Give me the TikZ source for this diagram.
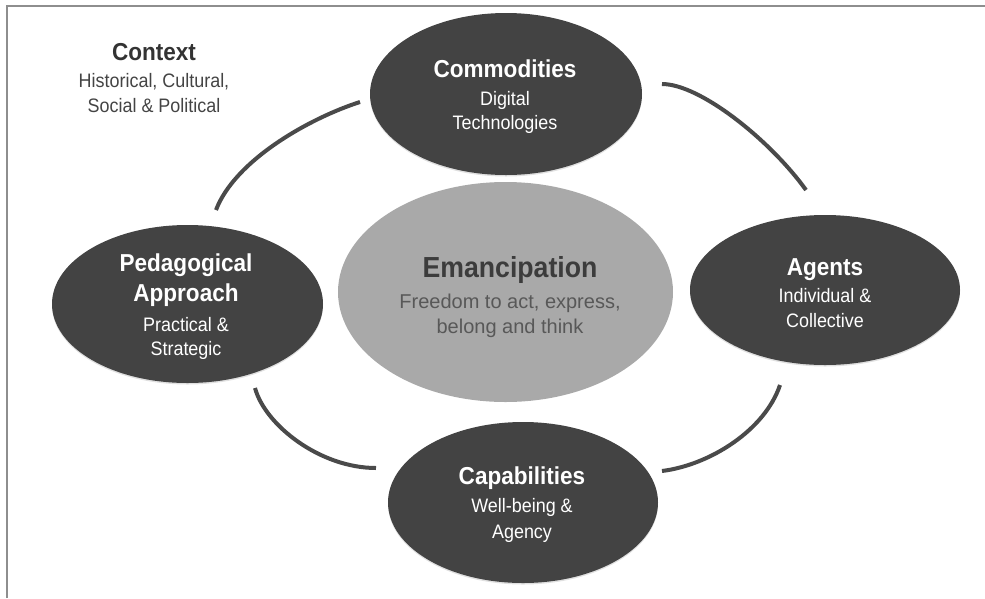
\documentclass[tikz,border=0pt]{standalone}
\usepackage{fontspec}
\setmainfont{Liberation Sans}
\newfontfamily\rob{Liberation Sans}[FakeStretch=0.92]
\usetikzlibrary{shapes.geometric,shadows}
\definecolor{darkfill}{HTML}{434343}
\definecolor{midfill}{HTML}{A9A9A9}
\definecolor{arccol}{HTML}{4A4A4A}
\definecolor{framecol}{HTML}{8E8E8E}
\definecolor{ctxhead}{HTML}{333333}
\definecolor{ctxsub}{HTML}{444444}
\definecolor{emhead}{HTML}{3C3C3C}
\definecolor{emsub}{HTML}{585858}
\tikzset{
  darkell/.style={ellipse, fill=darkfill, draw=none, inner sep=0pt,
    drop shadow={shadow xshift=0pt, shadow yshift=-1.5pt, opacity=0.12, fill=black}},
  midell/.style={ellipse, fill=midfill, draw=none, inner sep=0pt},
  txt/.style={anchor=base, inner sep=0pt, align=center},
  headw/.style={txt, text=white, font=\rob\bfseries\fontsize{24.5}{28}\selectfont},
  subw/.style={txt, text=white, font=\rob\fontsize{19.5}{22}\selectfont},
  loop/.style={draw=arccol, line width=4pt, line cap=butt},
}
\begin{document}
\begin{tikzpicture}[x=1pt,y=-1pt]
\useasboundingbox (0,0) rectangle (985,598);
% frame
\draw[framecol, line width=1.5pt] (7,598) -- (7,6) -- (985,6);

% ellipses
\node[darkell, minimum width=272pt, minimum height=162pt] (commod) at (506,94) {};
\node[midell, minimum width=335pt, minimum height=220pt] (eman) at (505.5,292) {};
\node[darkell, minimum width=271pt, minimum height=158pt] (pedag) at (187.5,304) {};
\node[darkell, minimum width=270pt, minimum height=150pt] (agents) at (825,290) {};
\node[darkell, minimum width=270pt, minimum height=161pt] (capab) at (523,502.5) {};

% connecting arcs
\coordinate (a1s) at (216,210); \coordinate (a1e) at (360,102);
\coordinate (a2s) at (662,84);  \coordinate (a2e) at (806,190);
\coordinate (a3s) at (780,385); \coordinate (a3e) at (662,471);
\coordinate (a4s) at (255,388); \coordinate (a4e) at (376,468);
\draw[loop] (a1s) .. controls (235,160) and (310,118) .. (a1e);
\draw[loop] (a2s) .. controls (700,84) and (770,140) .. (a2e);
\draw[loop] (a3s) .. controls (765,430) and (710,465) .. (a3e);
\draw[loop] (a4s) .. controls (265,425) and (320,468) .. (a4e);

% context
\node[txt, text=ctxhead, font=\rob\bfseries\fontsize{24.5}{28}\selectfont] (ctxh) at (154,60) {Context};
\node[txt, text=ctxsub, font=\rob\fontsize{19.5}{22}\selectfont] (ctx1) at (154,87) {Historical, Cultural,};
\node[txt, text=ctxsub, font=\rob\fontsize{19.5}{22}\selectfont] (ctx2) at (154,112) {Social \& Political};

% commodities
\node[headw] (commh) at (505,77) {Commodities};
\node[subw] (comm1) at (505,105) {Digital};
\node[subw] (comm2) at (505,129) {Technologies};

% emancipation
\node[txt, text=emhead, font=\rob\bfseries\fontsize{29}{32}\selectfont] (emh) at (510,277) {Emancipation};
\node[txt, text=emsub, font=\fontsize{20}{23}\selectfont] (em1) at (510,308) {Freedom to act, express,};
\node[txt, text=emsub, font=\fontsize{20}{23}\selectfont] (em2) at (510,333) {belong and think};

% pedagogical
\node[headw] (pedh1) at (186,271) {Pedagogical};
\node[headw] (pedh2) at (186,301) {Approach};
\node[subw] (ped1) at (186,331) {Practical \&};
\node[subw] (ped2) at (186,355) {Strategic};

% agents
\node[headw] (agh) at (825,275) {Agents};
\node[subw] (ag1) at (825,302) {Individual \&};
\node[subw] (ag2) at (825,327) {Collective};

% capabilities
\node[headw] (caph) at (522,484) {Capabilities};
\node[subw] (cap1) at (522,512) {Well-being \&};
\node[subw] (cap2) at (522,538) {Agency};
\end{tikzpicture}
\end{document}
